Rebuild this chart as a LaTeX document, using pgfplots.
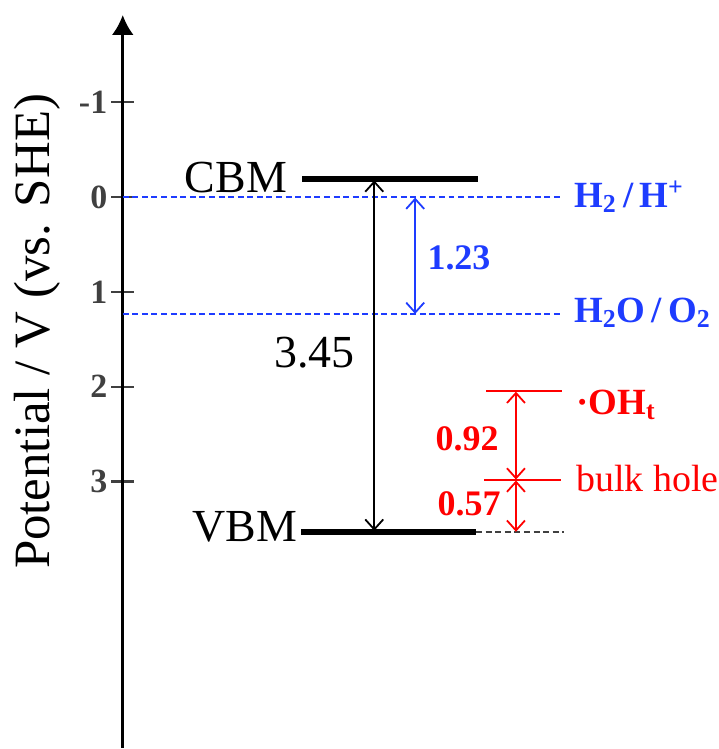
\documentclass[border=0pt]{standalone}
\usepackage{fontspec}
\setmainfont{Liberation Serif}
\usepackage{pgfplots}
\pgfplotsset{compat=1.18}
\usetikzlibrary{arrows.meta}
\definecolor{myblue}{RGB}{30,60,255}
\definecolor{myred}{RGB}{255,0,0}
\definecolor{tickgray}{RGB}{64,64,64}
\begin{document}
\begin{tikzpicture}
\begin{axis}[
  scale only axis, width=366pt, height=367pt,
  xmin=-123, xmax=609, ymin=-1.921, ymax=5.805, y dir=reverse,
  axis x line=none, axis y line=middle,
  hide obscured y ticks=false,
  y axis line style={line width=1.5pt, {Latex[length=10pt,width=11pt]}-},
  ytick={-1,0,1,2,3}, yticklabels={-1,0,1,2,3},
  tick align=center, major tick length=11.5pt,
  ytick style={tickgray, line width=1.1pt},
  yticklabel style={font=\fontsize{17}{20}\selectfont\bfseries, text=tickgray, xshift=1.5pt},
  every axis y label/.style={at={(axis description cs:0.0683,0.568)}, anchor=base, rotate=90, font=\fontsize{25.5}{30}\selectfont},
  ylabel={Potential / V (vs. SHE)},
  clip=false,
]
% CBM and VBM levels
\addplot[black, line width=3pt] coordinates {(180,-0.192) (356,-0.192)};
\addplot[black, line width=3pt] coordinates {(179,3.535) (354,3.535)};
\addplot[black!75, line width=0.8pt, dash pattern=on 3pt off 1.8pt] coordinates {(354,3.535) (442,3.535)};
% redox potentials
\addplot[myblue, line width=1pt, dash pattern=on 3pt off 1.8pt] coordinates {(0,0) (440,0)};
\addplot[myblue, line width=1pt, dash pattern=on 3pt off 1.8pt] coordinates {(0,1.237) (440,1.237)};
% band gap arrow
\addplot[black, line width=0.9pt, {Straight Barb[length=5pt,width=9pt]}-{Straight Barb[length=5pt,width=9pt]}] coordinates {(252,-0.176) (252,3.519)};
% 1.23 arrow
\addplot[myblue, line width=0.9pt, {Straight Barb[length=5pt,width=9pt]}-{Straight Barb[length=5pt,width=9pt]}] coordinates {(293,0.005) (293,1.232)};
% red levels
\addplot[myred, line width=0.9pt] coordinates {(364,2.047) (440,2.047)};
\addplot[myred, line width=0.9pt] coordinates {(362,2.984) (439,2.984)};
\addplot[myred, line width=0.9pt, {Straight Barb[length=5pt,width=9pt]}-{Straight Barb[length=5pt,width=9pt]}] coordinates {(394,2.052) (394,2.979)};
\addplot[myred, line width=0.9pt, {Straight Barb[length=5pt,width=9pt]}-{Straight Barb[length=5pt,width=9pt]}] coordinates {(394,2.989) (394,3.53)};
% labels
\node[anchor=base east, inner sep=0pt, font=\fontsize{23}{27}\selectfont] at (axis cs:165,-0.047) {CBM};
\node[anchor=base east, inner sep=0pt, font=\fontsize{23}{27}\selectfont] at (axis cs:175,3.637) {VBM};
\node[anchor=base, inner sep=0pt, font=\fontsize{23}{27}\selectfont] at (axis cs:192,1.795) {3.45};
\node[anchor=base west, inner sep=0pt, text=myblue, font=\fontsize{18}{21}\selectfont\bfseries] at (axis cs:305,0.763) {1.23};
\node[anchor=base west, inner sep=0pt, text=myblue, font=\fontsize{18.5}{21}\selectfont\bfseries] at (axis cs:452,0.111) {H\textsubscript{2}\,/\,H\textsuperscript{+}};
\node[anchor=base west, inner sep=0pt, text=myblue, font=\fontsize{18.5}{21}\selectfont\bfseries] at (axis cs:452,1.321) {H\textsubscript{2}O\,/\,O\textsubscript{2}};
\node[anchor=base west, inner sep=0pt, text=myred, font=\fontsize{18.5}{21}\selectfont\bfseries] at (axis cs:454,2.289) {·OH\textsubscript{t}};
\node[anchor=base west, inner sep=0pt, text=myred, font=\fontsize{19}{22}\selectfont] at (axis cs:454,3.1) {bulk hole};
\node[anchor=base east, inner sep=0pt, text=myred, font=\fontsize{18}{21}\selectfont\bfseries] at (axis cs:377,2.669) {0.92};
\node[anchor=base east, inner sep=0pt, text=myred, font=\fontsize{18}{21}\selectfont\bfseries] at (axis cs:379,3.363) {0.57};
\end{axis}
\path (current axis.north west) ++(0,7.5pt);
\end{tikzpicture}
\end{document}
